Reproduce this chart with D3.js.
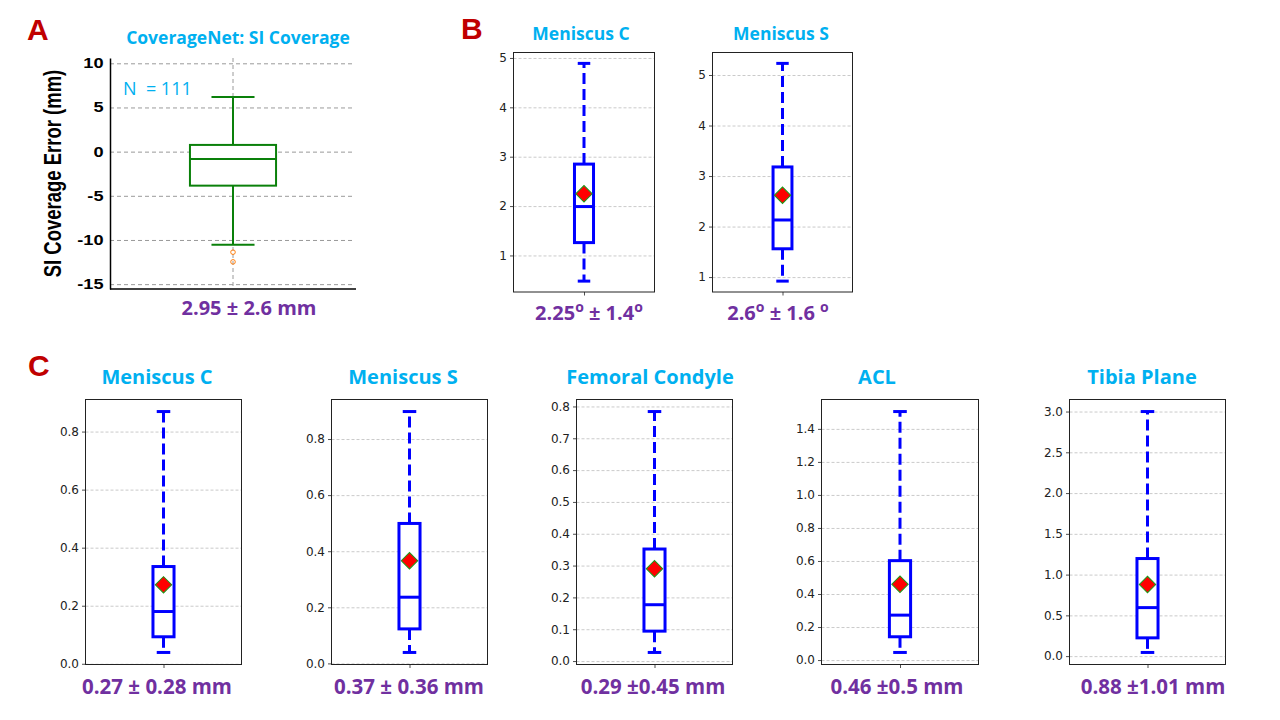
<!DOCTYPE html>
<html>
<head>
<meta charset="utf-8">
<script src="https://cdn.jsdelivr.net/npm/d3@7"></script>
<style>
  html, body { margin: 0; padding: 0; background: #fff; }
  svg { display: block; }
</style>
</head>
<body>
<svg id="chart" width="1280" height="720"></svg>
<script>
// ---- panel A: CoverageNet SI coverage error (mm) ----
var aTitle = "CoverageNet: SI Coverage";
var aYLabel = "SI Coverage Error (mm)";
var aCount = 111;
var aLow = [-10.55];
var aQ1 = [-3.85];
var aMedian = [-0.83];
var aQ3 = [0.76];
var aHigh = [6.19];
var aOutliers = [-11.38, -12.48];
var aTicks = [10, 5, 0, -5, -10, -15];
var aDomain = [-15.55, 10.6];
var aSummary = "2.95 \u00b1 2.6 mm";

// ---- panel B: angle errors (degrees) ----
var bNames = ["Meniscus C", "Meniscus S"];
var bLow = [0.48, 0.92];
var bQ1 = [1.26, 1.56];
var bMedian = [1.99, 2.13];
var bQ3 = [2.85, 3.18];
var bHigh = [4.89, 5.23];
var bMean = [2.25, 2.62];
var bTicks = [[1, 2, 3, 4, 5], [1, 2, 3, 4, 5]];
var bSummary = ["2.25\u00b0 \u00b1 1.4\u00b0", "2.6\u00b0 \u00b1 1.6 \u00b0"];

// ---- panel C: distance errors (mm) ----
var cNames = ["Meniscus C", "Meniscus S", "Femoral Condyle", "ACL", "Tibia Plane"];
var cLow = [0.039, 0.039, 0.027, 0.046, 0.045];
var cQ1 = [0.093, 0.123, 0.094, 0.141, 0.224];
var cMedian = [0.18, 0.236, 0.177, 0.272, 0.595];
var cQ3 = [0.335, 0.499, 0.352, 0.602, 1.197];
var cHigh = [0.869, 0.898, 0.784, 1.505, 3.0];
var cMean = [0.272, 0.366, 0.29, 0.459, 0.879];
var cTicks = [
    [0, 0.2, 0.4, 0.6, 0.8],
    [0, 0.2, 0.4, 0.6, 0.8],
    [0, 0.1, 0.2, 0.3, 0.4, 0.5, 0.6, 0.7, 0.8],
    [0, 0.2, 0.4, 0.6, 0.8, 1.0, 1.2, 1.4],
    [0, 0.5, 1.0, 1.5, 2.0, 2.5, 3.0]
];
var cSummary = ["0.27 \u00b1 0.28 mm", "0.37 \u00b1 0.36 mm", "0.29 \u00b10.45 mm", "0.46 \u00b10.5 mm", "0.88 \u00b11.01 mm"];

// ---- layout (pixels) ----
var aFrame = {x0: 110, x1: 356, y0: 58, y1: 289, tx: 238, sx: 249};
var bFrames = [
    {x0: 513.5, x1: 654.5, y0: 52.5, y1: 292, tx: 581, sx: 589},
    {x0: 712.5, x1: 852.5, y0: 52.5, y1: 292, tx: 781, sx: 778}
];
var cFrames = [
    {x0: 85.5, x1: 241.5, y0: 399.5, y1: 664.5, tx: 157, sx: 157},
    {x0: 331.5, x1: 487.5, y0: 399.5, y1: 664.5, tx: 403, sx: 409},
    {x0: 576.5, x1: 732.5, y0: 399.5, y1: 664.5, tx: 650, sx: 653},
    {x0: 821.5, x1: 978.5, y0: 399.5, y1: 664.5, tx: 877, sx: 897},
    {x0: 1069.5, x1: 1225.5, y0: 399.5, y1: 664.5, tx: 1142, sx: 1153}
];

var blue = "#0000ff";
var titleBlue = "#00b0f0";
var purple = "#7030a0";
var letterRed = "#c00000";
var titleFont = "'Open Sans', 'Noto Sans', sans-serif";
var tickFont = "'DejaVu Sans', sans-serif";
var arialFont = "'Liberation Sans', Arial, sans-serif";
// panel A was pasted stretched sideways on the slide
var aStretch = 1.3;

var svg = d3.select("#chart");

// panel letters
[["A", 27, 40], ["B", 461, 39], ["C", 28, 376]].forEach(function(l) {
    svg.append("text")
        .attr("x", l[1]).attr("y", l[2])
        .attr("font-family", arialFont)
        .attr("font-weight", "bold")
        .attr("font-size", 30)
        .attr("fill", letterRed)
        .text(l[0]);
});

// summary text, "°" drawn as a raised bold "o" like the original slide
var summaryText = function(x, y, str, size) {
    var t = svg.append("text")
        .attr("x", x).attr("y", y)
        .attr("text-anchor", "middle")
        .attr("font-family", titleFont)
        .attr("font-weight", "bold")
        .attr("font-size", size)
        .attr("fill", purple)
        .style("white-space", "pre");
    var parts = str.split("\u00b0");
    parts.forEach(function(p, i) {
        t.append("tspan").attr("dy", i > 0 ? 8 : 0).text(p);
        if (i < parts.length - 1) {
            t.append("tspan").attr("dy", -8).attr("font-size", size * 0.7).text("o");
        }
    });
};

var titleText = function(x, y, str, size) {
    svg.append("text")
        .attr("x", x).attr("y", y)
        .attr("text-anchor", "middle")
        .attr("font-family", titleFont)
        .attr("font-weight", "bold")
        .attr("font-size", size)
        .attr("fill", titleBlue)
        .text(str);
};

// matplotlib-style box plot: full frame, dashed whiskers, diamond mean
var drawBox = function(f, s, ticks, fmt) {
    var pad = (s.hi - s.lo) * 0.05;
    var y = d3.scaleLinear().domain([s.lo - pad, s.hi + pad]).range([f.y1, f.y0]);
    var x = d3.scaleLinear().domain([0.5, 1.5]).range([f.x0, f.x1]);
    var bw = x(0.5 + 0.135) - x(0.5);
    var cx = x(1);
    var w = f.x1 - f.x0;
    var g = svg.append("g");

    // grid
    var grid = g.append("g")
        .attr("transform", "translate(" + f.x0 + ",0)")
        .call(d3.axisLeft(y).tickValues(ticks).tickSize(-w).tickFormat(""));
    grid.select(".domain").remove();
    grid.selectAll("line")
        .attr("stroke", "#c4c4c4")
        .attr("stroke-width", 0.9)
        .attr("stroke-dasharray", "3,2");

    // y axis ticks + labels
    var ax = g.append("g")
        .attr("transform", "translate(" + f.x0 + ",0)")
        .call(d3.axisLeft(y).tickValues(ticks).tickSize(3.5).tickPadding(3).tickFormat(fmt));
    ax.select(".domain").remove();
    ax.selectAll("line").attr("stroke", "#222").attr("stroke-width", 0.8);
    ax.selectAll("text")
        .attr("font-family", tickFont)
        .attr("font-size", 12)
        .attr("fill", "#222");

    var bx = g.append("g")
        .attr("transform", "translate(0," + f.y1 + ")")
        .call(d3.axisBottom(x).tickValues([1]).tickSize(3.5).tickFormat(""));
    bx.select(".domain").remove();
    bx.selectAll("line").attr("stroke", "#222").attr("stroke-width", 0.8);

    // whiskers
    [[s.q3, s.hi], [s.q1, s.lo]].forEach(function(wk) {
        g.append("line")
            .attr("x1", cx).attr("x2", cx)
            .attr("y1", y(wk[0])).attr("y2", y(wk[1]))
            .attr("stroke", blue)
            .attr("stroke-width", 3)
            .attr("stroke-dasharray", "11,5");
        g.append("line")
            .attr("x1", cx - bw / 4).attr("x2", cx + bw / 4)
            .attr("y1", y(wk[1])).attr("y2", y(wk[1]))
            .attr("stroke", blue)
            .attr("stroke-width", 3)
            .attr("stroke-linecap", "square");
    });

    g.append("rect")
        .attr("x", cx - bw / 2)
        .attr("y", y(s.q3))
        .attr("width", bw)
        .attr("height", y(s.q1) - y(s.q3))
        .attr("fill", "#fff")
        .attr("stroke", blue)
        .attr("stroke-width", 3);

    g.append("line")
        .attr("x1", cx - bw / 2).attr("x2", cx + bw / 2)
        .attr("y1", y(s.med)).attr("y2", y(s.med))
        .attr("stroke", blue)
        .attr("stroke-width", 3);

    g.append("path")
        .attr("d", d3.symbol().type(d3.symbolSquare).size(135)())
        .attr("transform", "translate(" + cx + "," + y(s.mean) + ") rotate(45)")
        .attr("fill", "#ff0000")
        .attr("stroke", "#1a9a1a")
        .attr("stroke-width", 1);

    // frame
    g.append("rect")
        .attr("x", f.x0).attr("y", f.y0)
        .attr("width", w).attr("height", f.y1 - f.y0)
        .attr("fill", "none")
        .attr("stroke", "#222")
        .attr("stroke-width", 1);
};

// ---- panel A ----
(function() {
    var f = aFrame;
    var y = d3.scaleLinear().domain(aDomain).range([f.y1, f.y0]);
    var x = d3.scaleLinear().domain([0.5, 1.5]).range([f.x0, f.x1]);
    var bw = x(0.5 + 0.35) - x(0.5);
    var cx = x(1);
    var w = f.x1 - f.x0;
    var g = svg.append("g");

    var grid = g.append("g")
        .attr("transform", "translate(" + f.x0 + ",0)")
        .call(d3.axisLeft(y).tickValues(aTicks).tickSize(-w + 3).tickFormat(""));
    grid.select(".domain").remove();
    grid.selectAll("line")
        .attr("stroke", "#9a9a9a")
        .attr("stroke-width", 1)
        .attr("stroke-dasharray", "4,3");

    g.append("line")
        .attr("x1", cx).attr("x2", cx)
        .attr("y1", f.y0).attr("y2", f.y1)
        .attr("stroke", "#9a9a9a")
        .attr("stroke-width", 1)
        .attr("stroke-dasharray", "4,3");

    var ax = g.append("g")
        .attr("transform", "translate(" + f.x0 + ",0)")
        .call(d3.axisLeft(y).tickValues(aTicks).tickSize(0).tickPadding(5)
            .tickFormat(function(d) { return String(d); }));
    ax.select(".domain").attr("stroke", "#000").attr("stroke-width", 1.5);
    ax.selectAll("text")
        .attr("font-family", arialFont)
        .attr("font-weight", "bold")
        .attr("font-size", 14)
        .attr("fill", "#000")
        .attr("transform", "scale(" + aStretch + ",1)");

    g.append("line")
        .attr("x1", f.x0).attr("x2", f.x1)
        .attr("y1", f.y1).attr("y2", f.y1)
        .attr("stroke", "#000")
        .attr("stroke-width", 1.5);

    var green = "#0a800a";
    [[aQ3[0], aHigh[0]], [aQ1[0], aLow[0]]].forEach(function(wk) {
        g.append("line")
            .attr("x1", cx).attr("x2", cx)
            .attr("y1", y(wk[0])).attr("y2", y(wk[1]))
            .attr("stroke", green).attr("stroke-width", 2);
        g.append("line")
            .attr("x1", cx - bw / 4).attr("x2", cx + bw / 4)
            .attr("y1", y(wk[1])).attr("y2", y(wk[1]))
            .attr("stroke", green).attr("stroke-width", 2);
    });
    g.append("rect")
        .attr("x", cx - bw / 2).attr("y", y(aQ3[0]))
        .attr("width", bw).attr("height", y(aQ1[0]) - y(aQ3[0]))
        .attr("fill", "#fff")
        .attr("stroke", green).attr("stroke-width", 2);
    g.append("line")
        .attr("x1", cx - bw / 2).attr("x2", cx + bw / 2)
        .attr("y1", y(aMedian[0])).attr("y2", y(aMedian[0]))
        .attr("stroke", green).attr("stroke-width", 2);

    g.selectAll("circle.out")
        .data(aOutliers)
        .enter()
        .append("circle")
        .attr("cx", cx)
        .attr("cy", function(d) { return y(d); })
        .attr("r", 2.3)
        .attr("fill", "none")
        .attr("stroke", "#ff7f0e")
        .attr("stroke-width", 1);

    svg.append("text")
        .attr("transform", "translate(60.5," + ((f.y0 + f.y1) / 2) + ") scale(" + aStretch + ",1) rotate(-90)")
        .attr("text-anchor", "middle")
        .attr("font-family", arialFont)
        .attr("font-weight", "bold")
        .attr("font-size", 18.5)
        .attr("fill", "#000")
        .text(aYLabel);

    svg.append("text")
        .attr("x", 123).attr("y", 95)
        .attr("font-family", titleFont)
        .attr("font-size", 18)
        .attr("fill", titleBlue)
        .style("white-space", "pre")
        .text("N  = " + aCount);

    titleText(f.tx, 44, aTitle, 17.5);
    summaryText(f.sx, 315, aSummary, 20);
})();

// ---- panel B ----
bNames.forEach(function(name, i) {
    drawBox(bFrames[i],
        {lo: bLow[i], q1: bQ1[i], med: bMedian[i], q3: bQ3[i], hi: bHigh[i], mean: bMean[i]},
        bTicks[i], d3.format("d"));
    titleText(bFrames[i].tx, 40, name, 17.5);
    summaryText(bFrames[i].sx, 320, bSummary[i], 20);
});

// ---- panel C ----
cNames.forEach(function(name, i) {
    drawBox(cFrames[i],
        {lo: cLow[i], q1: cQ1[i], med: cMedian[i], q3: cQ3[i], hi: cHigh[i], mean: cMean[i]},
        cTicks[i], d3.format(".1f"));
    titleText(cFrames[i].tx, 384, name, 20);
    summaryText(cFrames[i].sx, 694, cSummary[i], 20.5);
});
</script>
</body>
</html>
